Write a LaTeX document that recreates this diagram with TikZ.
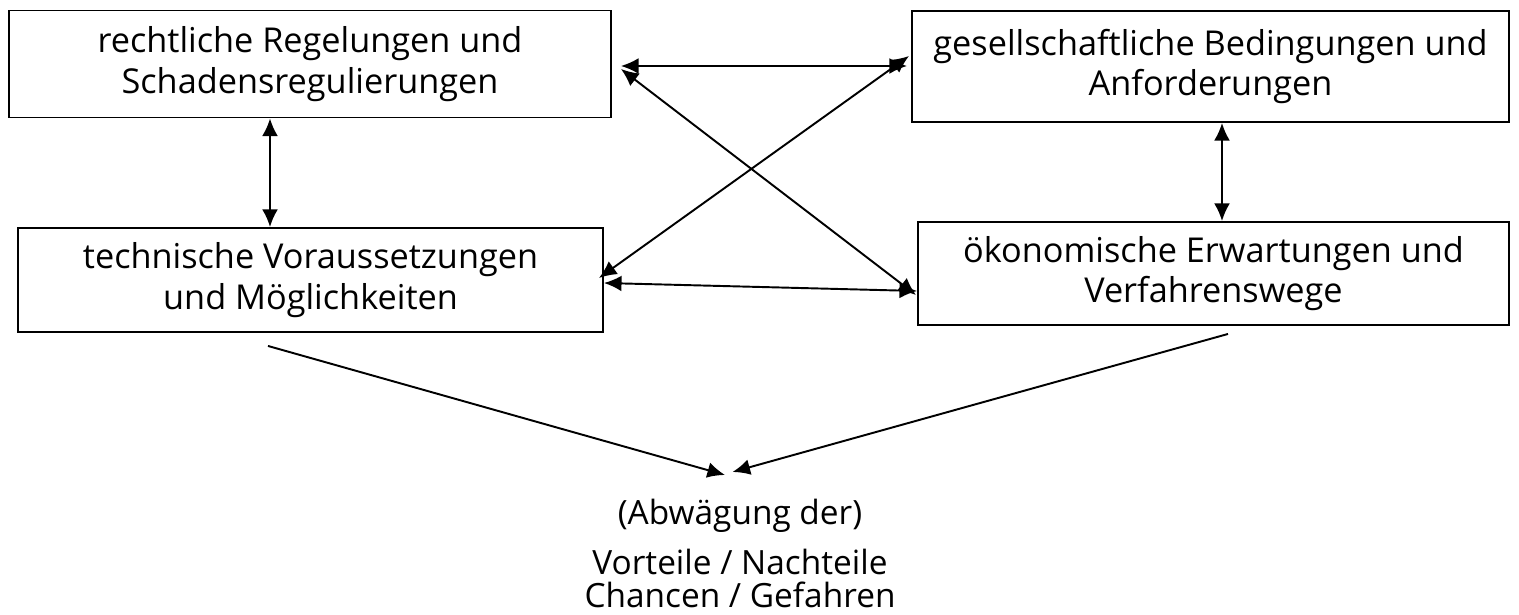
\documentclass[tikz,border=0pt]{standalone}
\usepackage{fontspec}
\setmainfont{Open Sans}
\usetikzlibrary{arrows.meta}

\begin{document}
\begin{tikzpicture}[
	box/.style={shape=rectangle, draw, line width=1.1pt, align=center, inner sep=0pt, font=\fontsize{19.5}{23}\selectfont},
	lbl/.style={anchor=base, inner sep=0pt, font=\fontsize{19}{22}\selectfont},
	both/.style={line width=1.1pt, {Latex[length=10pt,width=9pt]}-{Latex[length=10pt,width=9pt]}},
	one/.style={line width=1.1pt, -{Latex[length=10pt,width=9pt]}}]
	\useasboundingbox (0, 0) rectangle (30.38, 12.3);
	% Boxes:
	\node[box, minimum width=12.04cm, minimum height=2.14cm](rl) at (6.2, 11.02){rechtliche Regelungen und\\Schadensregulierungen};
	\node[box, minimum width=11.94cm, minimum height=2.22cm](gb) at (24.21, 10.97){gesellschaftliche Bedingungen und\\Anforderungen};
	\node[box, minimum width=11.7cm, minimum height=2.08cm](tv) at (6.21, 6.7){technische Voraussetzungen\\und Möglichkeiten};
	\node[box, minimum width=11.82cm, minimum height=2.06cm](oe) at (24.27, 6.83){ökonomische Erwartungen und\\Verfahrenswege};
	% Result text:
	\node[lbl](abw) at (14.8, 1.8){(Abwägung der)};
	\node[lbl](vn) at (14.8, 0.8){Vorteile / Nachteile};
	\node[lbl](cg) at (14.8, 0.14){Chancen / Gefahren};
	\coordinate (goal) at (14.6, 2.8);
	% Connectors:
	\draw[both] ([xshift=-0.8cm]rl.south) -- ([xshift=-0.8cm]rl.south |- tv.north);
	\draw[both] ([xshift=0.23cm]gb.south) -- ([xshift=0.23cm]gb.south |- oe.north);
	\draw[both, shorten <=0.18cm, shorten >=0.08cm] ([yshift=-0.04cm]rl.east) -- ([yshift=-0.04cm]rl.east -| gb.west);
	\draw[both] ([yshift=-0.06cm]tv.east) -- ([yshift=-0.35cm]oe.west);
	\draw[both] ([xshift=0.18cm, yshift=-0.1cm]rl.east) -- ([xshift=-0.02cm, yshift=-0.43cm]oe.west);
	\draw[both] ([xshift=-0.1cm, yshift=0.04cm]tv.east) -- ([xshift=-0.04cm, yshift=0.21cm]gb.west);
	\draw[one] ([xshift=-0.85cm, yshift=-0.26cm]tv.south) -- ([xshift=-0.1cm]goal);
	\draw[one] ([xshift=0.29cm, yshift=-0.16cm]oe.south) -- ([xshift=0.05cm, yshift=0.06cm]goal);
\end{tikzpicture}
\end{document}
